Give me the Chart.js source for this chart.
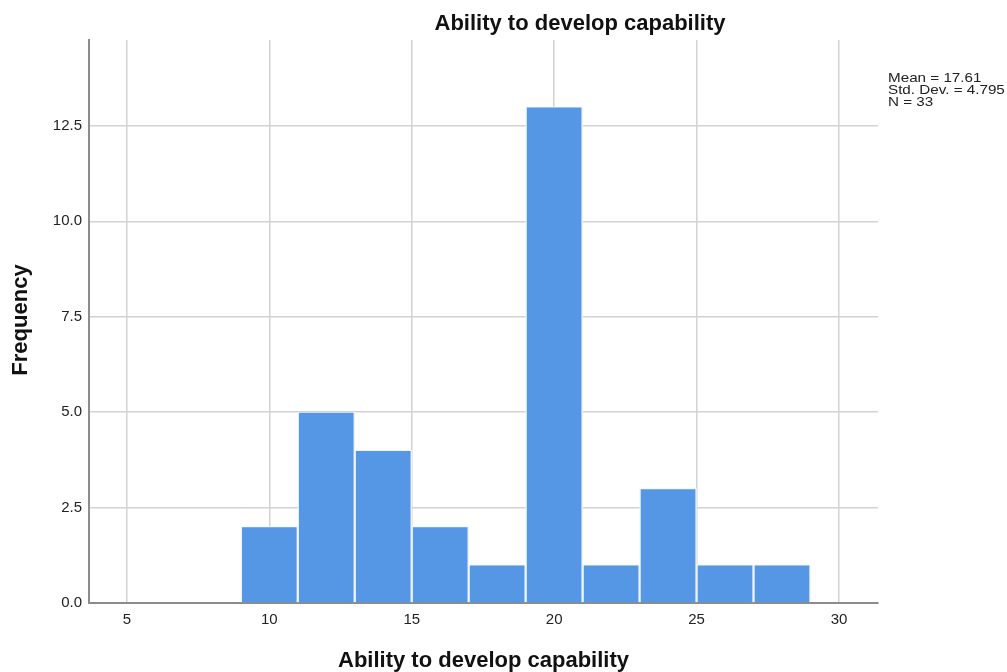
<!DOCTYPE html>
<html>
<head>
<meta charset="utf-8">
<script src="https://cdn.jsdelivr.net/npm/chart.js@4"></script>
<style>
  body { margin: 0; background: #fff; }
  canvas { display: block; }
</style>
</head>
<body>
<canvas id="hist" width="1007" height="672"></canvas>
<script>
"use strict";

// histogram bins (centre of each 2-wide bin) and counts
const binCenters = [10, 12, 14, 16, 18, 20, 22, 24, 26, 28];
const counts = [2, 5, 4, 2, 1, 13, 1, 3, 1, 1];
const xTicks = [5, 10, 15, 20, 25, 30];
const yTicks = [0, 2.5, 5, 7.5, 10, 12.5];
const statsLines = ["Mean = 17.61", "Std. Dev. = 4.795", "N = 33"];
const chartTitle = "Ability to develop capability";
const xTitle = "Ability to develop capability";
const yTitle = "Frequency";

const FONT = "'Liberation Sans', Arial, sans-serif";

// titles and the stats box drawn as text on the canvas
const textPlugin = {
  id: "texts",
  afterDraw(chart) {
    const ctx = chart.ctx;
    const area = chart.chartArea;
    ctx.save();
    ctx.fillStyle = "#111";
    ctx.textAlign = "center";
    ctx.textBaseline = "middle";
    ctx.font = "bold 22px " + FONT;
    ctx.fillText(chartTitle, 580, 24);
    ctx.fillText(xTitle, (area.left + area.right) / 2, 661);

    ctx.translate(21, 320);
    ctx.rotate(-Math.PI / 2);
    ctx.fillText(yTitle, 0, 0);
    ctx.restore();

    // the stats text is a bit wide and tightly spaced, like SPSS
    ctx.save();
    ctx.fillStyle = "#222";
    ctx.font = "13px " + FONT;
    ctx.textAlign = "left";
    ctx.textBaseline = "middle";
    ctx.translate(888, 0);
    ctx.scale(1.17, 1);
    statsLines.forEach((line, i) => {
      ctx.fillText(line, 0, 78 + i * 12);
    });
    ctx.restore();
  },
};

new Chart(document.getElementById("hist"), {
  type: "bar",
  data: {
    datasets: [
      {
        data: binCenters.map((x, i) => ({ x: x, y: counts[i] })),
        backgroundColor: "#5596e5",
        borderColor: "#eef4fc",
        borderWidth: { left: 1.5, right: 1.5, top: 1 },
        borderSkipped: "bottom",
        barPercentage: 1,
        categoryPercentage: 1,
      },
    ],
  },
  options: {
    responsive: false,
    animation: false,
    layout: { padding: { left: 0, right: 129, top: 40, bottom: 0 } },
    plugins: {
      legend: { display: false },
      tooltip: { enabled: false },
    },
    scales: {
      x: {
        type: "linear",
        offset: false,
        min: 3.67,
        max: 31.37,
        afterBuildTicks(scale) {
          scale.ticks = xTicks.map((v) => ({ value: v }));
        },
        afterFit(scale) {
          scale.height = 69;
        },
        grid: {
          offset: false,
          color: "#d2d2d2",
          lineWidth: 1.5,
          drawTicks: false,
        },
        border: { color: "#8c8c8c", width: 2 },
        ticks: {
          padding: 8,
          color: "#222",
          font: { family: FONT, size: 15 },
          maxRotation: 0,
          callback: (v) => String(v),
        },
      },
      y: {
        min: 0,
        max: 14.75,
        afterBuildTicks(scale) {
          scale.ticks = yTicks.map((v) => ({ value: v }));
        },
        afterFit(scale) {
          scale.width = 89;
        },
        grid: {
          color: "#d2d2d2",
          lineWidth: 1.5,
          drawTicks: false,
        },
        border: { color: "#8c8c8c", width: 2 },
        ticks: {
          padding: 7,
          color: "#222",
          font: { family: FONT, size: 15 },
          callback: (v) => v.toFixed(1),
        },
      },
    },
  },
  plugins: [textPlugin],
});
</script>
</body>
</html>
